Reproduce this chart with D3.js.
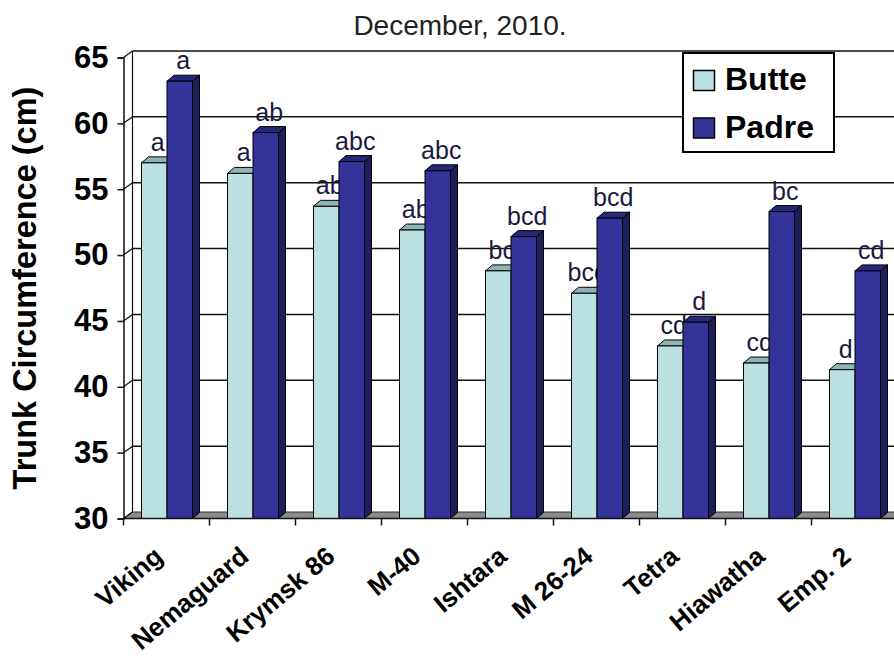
<!DOCTYPE html>
<html>
<head>
<meta charset="utf-8">
<script src="https://cdnjs.cloudflare.com/ajax/libs/d3/7.8.5/d3.min.js"></script>
<style>
  body { margin: 0; background: #fff; }
  text { font-family: Arial, "Liberation Sans", sans-serif; }
</style>
</head>
<body>
<div id="chart"></div>
<script>
// datos
var categories = ["Viking", "Nemaguard", "Krymsk 86", "M-40", "Ishtara", "M 26-24", "Tetra", "Hiawatha", "Emp. 2"];
var series = ["Butte", "Padre"];
var butte = [57.0, 56.2, 53.7, 51.9, 48.8, 47.1, 43.1, 41.8, 41.3];
var padre = [63.2, 59.3, 57.1, 56.4, 51.4, 52.8, 44.9, 53.3, 48.8];
var butteLetters = ["a", "a", "ab", "ab", "bc", "bcd", "cd", "cd", "d"];
var padreLetters = ["a", "ab", "abc", "abc", "bcd", "bcd", "d", "bc", "cd"];
var yTicks = [30, 35, 40, 45, 50, 55, 60, 65];

var width = 894;
var height = 656;

var colors = {
    Butte: { front: "#bae0e2", top: "#8eb3b4", side: "#7a9c9d" },
    Padre: { front: "#333399", top: "#26267a", side: "#1e1e5a" }
};

// profundidad 3D
var wallDx = 9, wallDy = 6.5;
var barDx = 7, barDy = 6;

var x0 = 123.5;
var bandW = 86;
var bottom = 518.5;

var svg = d3.select('#chart')
    .append('svg')
    .attr('width', width)
    .attr('height', height);

var scaleX = d3.scaleBand()
    .domain(categories)
    .range([x0, x0 + bandW * categories.length])
    .padding(0);

var scaleSeries = d3.scaleBand()
    .domain(series)
    .range([18, 69])
    .padding(0);

var scaleY = d3.scaleLinear()
    .domain([30, 65])
    .range([bottom, 57.5]);

var xEnd = x0 + bandW * categories.length + 20;

// suelo gris
svg.append('polygon')
    .attr('points', [[x0, bottom], [xEnd, bottom], [xEnd + wallDx, bottom - wallDy], [x0 + wallDx, bottom - wallDy]].join(' '))
    .attr('fill', '#8c8c8c')
    .attr('stroke', '#333')
    .attr('stroke-width', 1);

// lineas de la pared del fondo
svg.append('g')
    .selectAll('line')
    .data(yTicks.slice(1))
    .enter()
    .append('line')
    .attr('x1', x0 + wallDx)
    .attr('x2', xEnd + wallDx)
    .attr('y1', (d) => scaleY(d) - wallDy)
    .attr('y2', (d) => scaleY(d) - wallDy)
    .attr('stroke', '#111')
    .attr('stroke-width', 1.5);

// pared lateral: diagonales y borde del fondo
svg.append('g')
    .selectAll('line')
    .data(yTicks)
    .enter()
    .append('line')
    .attr('x1', x0)
    .attr('x2', x0 + wallDx)
    .attr('y1', (d) => scaleY(d))
    .attr('y2', (d) => scaleY(d) - wallDy)
    .attr('stroke', '#111')
    .attr('stroke-width', 1.2);

svg.append('line')
    .attr('x1', x0 + wallDx)
    .attr('x2', x0 + wallDx)
    .attr('y1', scaleY(65) - wallDy)
    .attr('y2', bottom - wallDy)
    .attr('stroke', '#111')
    .attr('stroke-width', 1.2);

// ejes
var y_axis = d3.axisLeft(scaleY)
    .tickValues(yTicks)
    .tickSize(6)
    .tickPadding(9)
    .tickFormat(d3.format('d'));

var gy = svg.append('g')
    .attr('transform', 'translate(' + x0 + ',0)')
    .call(y_axis);
gy.select('.domain').attr('stroke', '#111').attr('stroke-width', 1.5);
gy.selectAll('.tick line').attr('stroke', '#111').attr('stroke-width', 1.5);
gy.selectAll('.tick text')
    .attr('font-family', 'Arial, "Liberation Sans", sans-serif')
    .attr('font-size', 31)
    .attr('font-weight', 'bold')
    .attr('fill', '#000');

// barras 3D
function bar3d(g, x, w, v, c) {
    var t = scaleY(v);
    g.append('polygon')
        .attr('points', [[x + w, t], [x + w + barDx, t - barDy], [x + w + barDx, bottom - barDy], [x + w, bottom]].join(' '))
        .attr('fill', c.side)
        .attr('stroke', '#000')
        .attr('stroke-width', 1);
    g.append('polygon')
        .attr('points', [[x, t], [x + barDx, t - barDy], [x + w + barDx, t - barDy], [x + w, t]].join(' '))
        .attr('fill', c.top)
        .attr('stroke', '#000')
        .attr('stroke-width', 1);
    g.append('rect')
        .attr('x', x)
        .attr('y', t)
        .attr('width', w)
        .attr('height', bottom - t)
        .attr('fill', c.front)
        .attr('stroke', '#000')
        .attr('stroke-width', 1);
}

function letter(g, x, w, v, txt) {
    g.append('text')
        .attr('x', x + w / 2 + barDx / 2)
        .attr('y', scaleY(v) - 12)
        .attr('text-anchor', 'middle')
        .attr('font-size', 25)
        .attr('fill', '#1a1a40')
        .text(txt);
}

var bars = svg.append('g');
categories.forEach(function(cat, i) {
    var b = scaleX(cat);
    var w = scaleSeries.bandwidth();
    var xb = b + scaleSeries('Butte');
    var xp = b + scaleSeries('Padre');
    var g = bars.append('g');
    bar3d(g, xb, w, butte[i], colors.Butte);
    letter(g, xb, w, butte[i], butteLetters[i]);
    bar3d(g, xp, w, padre[i], colors.Padre);
    letter(g, xp, w, padre[i], padreLetters[i]);
});

// eje X con marcas en los limites de categoria
svg.append('line')
    .attr('x1', x0)
    .attr('x2', xEnd)
    .attr('y1', bottom)
    .attr('y2', bottom)
    .attr('stroke', '#111')
    .attr('stroke-width', 1.5);

svg.append('g')
    .selectAll('line')
    .data(categories.slice(1))
    .enter()
    .append('line')
    .attr('x1', (d) => scaleX(d))
    .attr('x2', (d) => scaleX(d))
    .attr('y1', bottom)
    .attr('y2', bottom + 7)
    .attr('stroke', '#111')
    .attr('stroke-width', 1.5);

svg.append('line')
    .attr('x1', x0).attr('x2', x0)
    .attr('y1', bottom).attr('y2', bottom + 7)
    .attr('stroke', '#111')
    .attr('stroke-width', 1.5);

svg.append('g')
    .selectAll('text')
    .data(categories)
    .enter()
    .append('text')
    .attr('transform', (d) => 'translate(' + (scaleX(d) + scaleX.bandwidth() / 2 - 2) + ',559) rotate(-40)')
    .attr('text-anchor', 'end')
    .attr('font-size', 26)
    .attr('font-weight', 'bold')
    .attr('fill', '#000')
    .text((d) => d);

// titulo del eje Y
svg.append('text')
    .attr('transform', 'translate(36,288) rotate(-90)')
    .attr('text-anchor', 'middle')
    .attr('font-size', 32.5)
    .attr('font-weight', 'bold')
    .attr('fill', '#000')
    .text('Trunk Circumference (cm)');

// titulo
svg.append('text')
    .attr('x', 460)
    .attr('y', 35)
    .attr('text-anchor', 'middle')
    .attr('font-size', 28)
    .attr('fill', '#222')
    .text('December, 2010.');

// leyenda
var legend = svg.append('g');
legend.append('rect')
    .attr('x', 683)
    .attr('y', 53)
    .attr('width', 151)
    .attr('height', 99)
    .attr('fill', '#fff')
    .attr('stroke', '#000')
    .attr('stroke-width', 2);

legend.selectAll('.sw')
    .data(series)
    .enter()
    .append('rect')
    .attr('class', 'sw')
    .attr('x', 693.5)
    .attr('y', (d, i) => 70.5 + i * 47.5)
    .attr('width', 21)
    .attr('height', 20)
    .attr('fill', (d) => colors[d].front)
    .attr('stroke', '#000')
    .attr('stroke-width', 1.5);

legend.selectAll('.lt')
    .data(series)
    .enter()
    .append('text')
    .attr('class', 'lt')
    .attr('x', 725)
    .attr('y', (d, i) => 90 + i * 47.5)
    .attr('font-size', 32)
    .attr('font-weight', 'bold')
    .attr('fill', '#000')
    .text((d) => d);
</script>
</body>
</html>
